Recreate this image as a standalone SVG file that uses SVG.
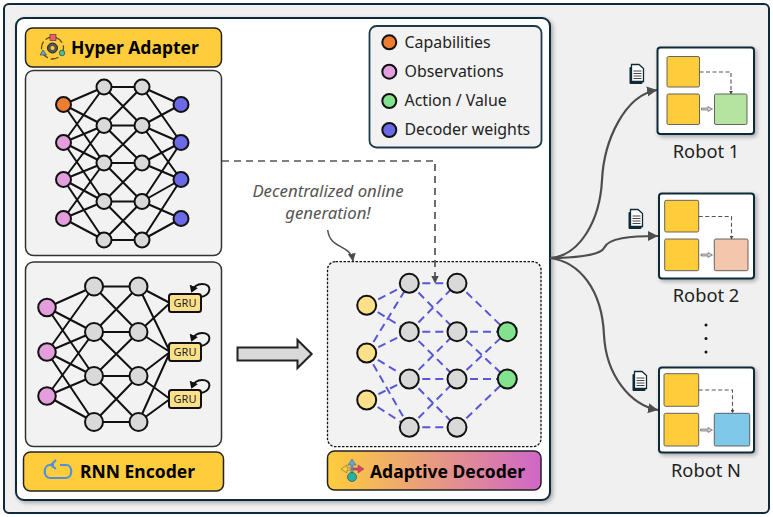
<svg xmlns="http://www.w3.org/2000/svg" width="773" height="517" viewBox="0 0 773 517">
<style>
text{font-family:"Noto Sans","Open Sans","Liberation Sans",sans-serif;fill:#111}
.title{font-size:17.500px;font-weight:700;fill:#000}
.leg{font-size:15.900px;fill:#222}
.rob{font-size:18.300px;fill:#222}
.gru{font-size:11px;fill:#222;text-anchor:middle}
.note{font-size:16.800px;font-style:italic;fill:#555;text-anchor:middle}
.edge{fill:none;stroke:#111;stroke-width:2}
.dash{fill:none;stroke:#5757d8;stroke-width:2;stroke-dasharray:8 5}
.n{stroke:#111;stroke-width:2}
.g{fill:#d9d9d9}.o{fill:#ed7d31}.p{fill:#e49edd}.b{fill:#6a6ae6}.y{fill:#ffe08a}.gn{fill:#83e28e}
.lab{stroke:#222;stroke-width:1.500}
.panel{fill:#f2f2f2;stroke:#333;stroke-width:1.500}
.rbox{fill:#fff;stroke:#0e2a3a;stroke-width:2}
.in{stroke:#555;stroke-width:.9}
.flow{fill:none;stroke:#4d4d4d;stroke-width:2.200}
.thin{fill:none;stroke:#555;stroke-width:1.100;stroke-dasharray:4 2.500}
.doc{fill:#fff;stroke:#0e2a3a;stroke-width:1.300}
</style>
<defs>
<filter id="sh" x="-5%" y="-5%" width="112%" height="112%"><feDropShadow dx="2" dy="2" stdDeviation="2" flood-color="#000" flood-opacity=".3"/></filter>
<linearGradient id="grad" x1="0" x2="1" y1="0" y2="0"><stop offset="0" stop-color="#ffcd3c"/><stop offset="1" stop-color="#d066c8"/></linearGradient>
<marker id="ah" markerWidth="9" markerHeight="10" refX="7.500" refY="5" orient="auto" markerUnits="userSpaceOnUse"><path d="M0,1 L8,5 L0,9 Z" fill="#4d4d4d"/></marker>
<marker id="ahl" markerWidth="12" markerHeight="12" refX="10" refY="6" orient="auto" markerUnits="userSpaceOnUse"><path d="M0,1 L10,6 L0,11 Z" fill="#4d4d4d"/></marker>
<marker id="ahs" markerWidth="4" markerHeight="4" refX="3" refY="2" orient="auto" markerUnits="userSpaceOnUse"><path d="M0,0 L3,2 L0,4 Z" fill="#444"/></marker>
<marker id="ahk" markerWidth="9" markerHeight="9" refX="5" refY="4.500" orient="auto" markerUnits="userSpaceOnUse"><path d="M0,0 L7,4.500 L0,9 Z" fill="#111"/></marker>
<g id="docicon"><rect x="-7.500" y="-7" width="13" height="17" rx="1" fill="#0e2a3a"/><path class="doc" d="M-5.500,-9.500 H2 L6.500,-5.500 V7.500 H-5.500 Z"/><path d="M-3.500,-3 H4.500 M-3.500,-.5 H4.500 M-3.500,2 H4.500 M-3.500,4.500 H4.500" stroke="#444" stroke-width="1.100"/></g>
</defs>

<rect id="outer" x="4" y="4" width="765" height="509" rx="5" fill="#f0f0f0" stroke="#0e2a3a" stroke-width="2"/>
<rect id="main" x="16" y="18" width="534" height="482" rx="8" fill="#fff" stroke="#0e2a3a" stroke-width="2" filter="url(#sh)"/>

<g id="panel-hyper"><rect class="panel" x="25.500" y="70.500" width="196" height="185" rx="8"/></g>
<g id="panel-rnn"><rect class="panel" x="25.500" y="262" width="196" height="184.500" rx="8"/></g>
<g id="panel-decoder"><rect x="327.500" y="261.700" width="213.500" height="185" rx="8" fill="#f2f2f2" stroke="#111" stroke-width="1.300" stroke-dasharray="2.500 1.500"/></g>

<g id="connectors">
<g id="hyper-edges" class="edge">
<path d="M63.500,104.500L104,87M63.500,104.500L104,125.500M63.500,104.500L104,163M63.500,142.500L104,87M63.500,142.500L104,125.500M63.500,142.500L104,163M63.500,142.500L104,201.500M63.500,179.500L104,125.500M63.500,179.500L104,163M63.500,179.500L104,201.500M63.500,179.500L104,240M63.500,218.500L104,163M63.500,218.500L104,201.500M63.500,218.500L104,240"/>
<path d="M104,87H142M104,125.500H142M104,163H142M104,201.500H142M104,240H142M104,87L142,125.500M104,125.500L142,87M104,125.500L142,163M104,163L142,125.500M104,163L142,201.500M104,201.500L142,163M104,201.500L142,240M104,240L142,201.500"/>
<path d="M142,87L181,104.500M142,87L181,142.500M142,125.500L181,104.500M142,125.500L181,142.500M142,125.500L181,179.500M142,163L181,142.500M142,163L181,179.500M142,201.500L181,142.500M142,201.500L181,179.500M142,201.500L181,218.500M142,240L181,179.500M142,240L181,218.500"/>
</g>
<g id="rnn-edges" class="edge">
<path d="M47,307.500L94,286.500M47,307.500L94,332M47,307.500L94,376M47,352L94,286.500M47,352L94,332M47,352L94,376M47,352L94,422M47,396L94,332M47,396L94,376M47,396L94,422"/>
<path d="M94,286.500H138.500M94,332H138.500M94,376H138.500M94,422H138.500M94,286.500L138.500,332M94,332L138.500,286.500M94,332L138.500,376M94,376L138.500,332M94,376L138.500,422M94,422L138.500,376"/>
<path d="M138.500,286.500L170,303M138.500,286.500L170,352M138.500,332L170,303M138.500,332L170,352M138.500,376L170,352M138.500,376L170,399M138.500,422L170,352M138.500,422L170,399"/>
<path d="M201,297C211,295 213,284 202,284C198,284 194,286 192,291" marker-end="url(#ahk)"/>
<path d="M201,346C211,344 213,333 202,333C198,333 194,335 192,340" marker-end="url(#ahk)"/>
<path d="M201,393C211,391 213,380 202,380C198,380 194,382 192,387" marker-end="url(#ahk)"/>
</g>
<g id="decoder-edges" class="dash">
<path d="M366.700,305.300L409.300,283.300M366.700,305.300L409.300,331.700M366.700,353L409.300,283.300M366.700,353L409.300,331.700M366.700,353L409.300,379M366.700,353L409.300,427.300M366.700,400L409.300,379M366.700,400L409.300,427.300"/>
<path d="M409.300,283.300H457M409.300,331.700H457M409.300,379H457M409.300,427.300H457M409.300,283.300L457,331.700M409.300,331.700L457,283.300M409.300,331.700L457,379M409.300,379L457,331.700M409.300,379L457,427.300M409.300,427.300L457,379"/>
<path d="M457,283.300L507.300,331.700M457,331.700H507.300M457,331.700L507.300,379M457,379L507.300,331.700M457,379H507.300M457,427.300L507.300,379"/>
</g>
<path id="feed" d="M222,161H435V283" fill="none" stroke="#555" stroke-width="1.700" stroke-dasharray="7 5" marker-end="url(#ah)"/>
<path id="squiggle" d="M327.700,230C330,250 350,243 353,261" fill="none" stroke="#4d4d4d" stroke-width="1.500" marker-end="url(#ah)"/>
<path id="big-arrow" d="M237.500,347.500H297.500V340L311.700,354L297.500,368V360.500H237.500Z" fill="#d9d9d9" stroke="#222" stroke-width="2"/>
<path class="flow" d="M550,258C580,256 600,220 602,180C604,140 625,95 657,90" marker-end="url(#ahl)"/>
<path class="flow" d="M550,258C570,258 600,256 604,248C608,238 630,236 658,236" marker-end="url(#ahl)"/>
<path class="flow" d="M550,258C580,262 602,290 604,335C606,375 630,405 658,410" marker-end="url(#ahl)"/>
</g>

<g id="hyper-adapter">
<rect class="lab" x="25.500" y="28" width="196" height="39" rx="7" fill="#ffcd3c"/>
<g id="icon-hyper" fill="none">
<circle cx="52.500" cy="48" r="11" stroke="#5a4a1a" stroke-width="1.300" stroke-dasharray="8 3"/>
<circle cx="52.500" cy="48" r="5" fill="#555" stroke="#222" stroke-width="1"/><circle cx="52.500" cy="48" r="2" fill="#ffcd3c"/>
<rect x="50" y="34.500" width="6" height="6" fill="#f25c6e" stroke="#333" stroke-width=".6"/>
<circle cx="62" cy="53" r="2.800" fill="#3cc49a" stroke="#333" stroke-width=".6"/>
<path d="M43,50L46.500,55H40Z" fill="#5aa8e8" stroke="#333" stroke-width=".6"/>
</g>
<text class="title" x="71" y="54">Hyper Adapter</text>
</g>
<g id="rnn-encoder">
<rect class="lab" x="23.500" y="452" width="200" height="39" rx="7" fill="#ffcd3c"/>
<g id="icon-rnn" fill="none" stroke="#4f8fe0" stroke-width="2.200"><path d="M54,465H50C43,465 43,478 50,478H66C73,478 73,465 66,465H60"/><path d="M56,460L51,465L56,469"/></g>
<text class="title" x="80" y="478">RNN Encoder</text>
</g>
<g id="adaptive-decoder">
<rect class="lab" x="327.500" y="451" width="213.500" height="39" rx="7" fill="url(#grad)"/>
<g id="icon-decoder"><path d="M352,459L348,465H351V473H353V465H356Z" fill="#5aa8e8" stroke="#555" stroke-width=".5"/><path d="M341,469L347,465V468H351V470H347V473Z" fill="#ffcd3c" stroke="#555" stroke-width=".5"/><path d="M364,469L358,465V468H353V470H358V473Z" fill="#e8386e" stroke="#555" stroke-width=".5"/><circle cx="352" cy="477" r="4.500" fill="#1fb5a5" stroke="#444" stroke-width=".7"/></g>
<text class="title" x="370" y="477.500">Adaptive Decoder</text>
</g>

<g id="hyper-nodes" class="n">
<circle class="o" cx="63.500" cy="104.500" r="7.500"/><circle class="p" cx="63.500" cy="142.500" r="7.500"/><circle class="p" cx="63.500" cy="179.500" r="7.500"/><circle class="p" cx="63.500" cy="218.500" r="7.500"/>
<circle class="g" cx="104" cy="87" r="7.500"/><circle class="g" cx="104" cy="125.500" r="7.500"/><circle class="g" cx="104" cy="163" r="7.500"/><circle class="g" cx="104" cy="201.500" r="7.500"/><circle class="g" cx="104" cy="240" r="7.500"/>
<circle class="g" cx="142" cy="87" r="7.500"/><circle class="g" cx="142" cy="125.500" r="7.500"/><circle class="g" cx="142" cy="163" r="7.500"/><circle class="g" cx="142" cy="201.500" r="7.500"/><circle class="g" cx="142" cy="240" r="7.500"/>
<circle class="b" cx="181" cy="104.500" r="7.500"/><circle class="b" cx="181" cy="142.500" r="7.500"/><circle class="b" cx="181" cy="179.500" r="7.500"/><circle class="b" cx="181" cy="218.500" r="7.500"/>
</g>
<g id="rnn-nodes" class="n">
<circle class="p" cx="47" cy="307.500" r="8.800"/><circle class="p" cx="47" cy="352" r="8.800"/><circle class="p" cx="47" cy="396" r="8.800"/>
<circle class="g" cx="94" cy="286.500" r="9"/><circle class="g" cx="94" cy="332" r="9"/><circle class="g" cx="94" cy="376" r="9"/><circle class="g" cx="94" cy="422" r="9"/>
<circle class="g" cx="138.500" cy="286.500" r="9"/><circle class="g" cx="138.500" cy="332" r="9"/><circle class="g" cx="138.500" cy="376" r="9"/><circle class="g" cx="138.500" cy="422" r="9"/>
</g>
<g id="gru-1"><rect x="169" y="294" width="32" height="18" rx="2.500" fill="#ffe08a" stroke="#111" stroke-width="2"/><text class="gru" x="185" y="307">GRU</text></g>
<g id="gru-2"><rect x="169" y="343" width="32" height="18" rx="2.500" fill="#ffe08a" stroke="#111" stroke-width="2"/><text class="gru" x="185" y="356">GRU</text></g>
<g id="gru-3"><rect x="169" y="390" width="32" height="18" rx="2.500" fill="#ffe08a" stroke="#111" stroke-width="2"/><text class="gru" x="185" y="403">GRU</text></g>
<g id="decoder-nodes" class="n">
<circle class="y" cx="366.700" cy="305.300" r="9.500"/><circle class="y" cx="366.700" cy="353" r="9.500"/><circle class="y" cx="366.700" cy="400" r="9.500"/>
<circle class="g" cx="409.300" cy="283.300" r="9.500"/><circle class="g" cx="409.300" cy="331.700" r="9.500"/><circle class="g" cx="409.300" cy="379" r="9.500"/><circle class="g" cx="409.300" cy="427.300" r="9.500"/>
<circle class="g" cx="457" cy="283.300" r="9.500"/><circle class="g" cx="457" cy="331.700" r="9.500"/><circle class="g" cx="457" cy="379" r="9.500"/><circle class="g" cx="457" cy="427.300" r="9.500"/>
<circle class="gn" cx="507.300" cy="331.700" r="9.500"/><circle class="gn" cx="507.300" cy="379" r="9.500"/>
</g>
<g id="note"><text class="note" x="328" y="197">Decentralized online</text><text class="note" x="328" y="219">generation!</text></g>

<g id="legend">
<rect x="369.500" y="26" width="172" height="121.500" rx="7" fill="#f2f2f2" stroke="#1b3a4a" stroke-width="1.800"/>
<circle class="n o" cx="389.300" cy="42.300" r="7"/><text class="leg" x="404.500" y="48">Capabilities</text>
<circle class="n p" cx="389.300" cy="71.700" r="7"/><text class="leg" x="404.500" y="77">Observations</text>
<circle class="n gn" cx="389.300" cy="101" r="7"/><text class="leg" x="404.500" y="106">Action / Value</text>
<circle class="n b" cx="389.300" cy="130" r="7"/><text class="leg" x="404.500" y="135">Decoder weights</text>
</g>

<g id="robot-1">
<rect class="rbox" x="657.500" y="47.500" width="96.500" height="86.500" rx="3" filter="url(#sh)"/>
<rect class="in" x="667" y="56.500" width="32.500" height="30.500" rx="1.500" fill="#ffcd3c"/>
<rect class="in" x="667" y="94" width="32.500" height="30.500" rx="1.500" fill="#ffcd3c"/>
<rect class="in" x="714.500" y="94" width="32.500" height="30.500" rx="1.500" fill="#b4e4a0"/>
<path class="thin" d="M699.500,72H731V94" marker-end="url(#ahs)"/>
<path d="M701.500,108H708V106.500L712.500,109L708,111.500V110H701.500Z" fill="#ccc" stroke="#555" stroke-width=".6"/>
<text class="rob" x="706" y="158" text-anchor="middle">Robot 1</text>
</g>
<g id="robot-2">
<rect class="rbox" x="659" y="193.500" width="95" height="85" rx="3" filter="url(#sh)"/>
<rect class="in" x="664.700" y="200.300" width="34" height="31.700" rx="1.500" fill="#ffcd3c"/>
<rect class="in" x="664.700" y="239" width="34" height="31.700" rx="1.500" fill="#ffcd3c"/>
<rect class="in" x="714.300" y="239" width="33.700" height="31.700" rx="1.500" fill="#f4c6ac"/>
<path class="thin" d="M698.700,216.500H731.500V239" marker-end="url(#ahs)"/>
<path d="M701,254H708V252.500L712.500,255L708,257.500V256H701Z" fill="#ccc" stroke="#555" stroke-width=".6"/>
<text class="rob" x="706" y="302" text-anchor="middle">Robot 2</text>
</g>
<g id="ellipsis" fill="#111"><circle cx="706" cy="325" r="1.500"/><circle cx="706" cy="338.500" r="1.500"/><circle cx="706" cy="352" r="1.500"/></g>
<g id="robot-n">
<rect class="rbox" x="659" y="367.500" width="95" height="85" rx="3" filter="url(#sh)"/>
<rect class="in" x="664" y="373.700" width="34.700" height="32.600" rx="1.500" fill="#ffcd3c"/>
<rect class="in" x="664" y="413.300" width="34.700" height="32.700" rx="1.500" fill="#ffcd3c"/>
<rect class="in" x="714.300" y="413.300" width="35.400" height="32.700" rx="1.500" fill="#7fc8ea"/>
<path class="thin" d="M698.700,390H732.500V413" marker-end="url(#ahs)"/>
<path d="M700.500,429H708V427.500L712.500,430L708,432.500V431H700.500Z" fill="#ccc" stroke="#555" stroke-width=".6"/>
<text class="rob" x="706" y="477" text-anchor="middle">Robot N</text>
</g>
<use id="doc-1" href="#docicon" x="637" y="74"/>
<use id="doc-2" href="#docicon" x="636" y="219"/>
<use id="doc-3" href="#docicon" x="640" y="381"/>
</svg>
